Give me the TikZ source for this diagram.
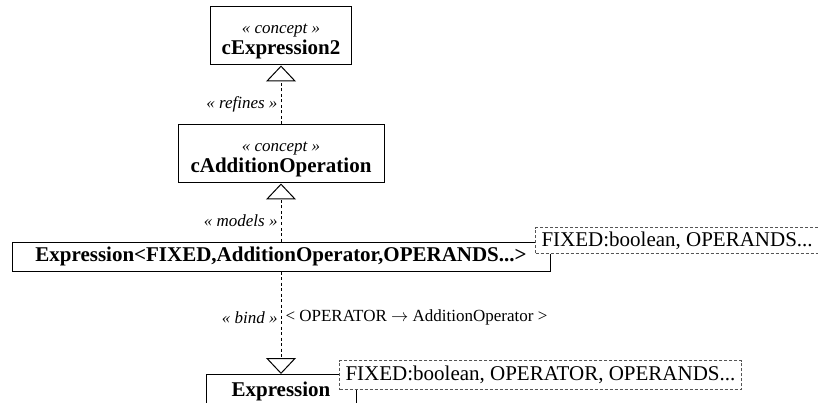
\documentclass[tikz,border=0pt]{standalone}
\usepackage{fontspec}
\setmainfont{Liberation Serif}
\usetikzlibrary{positioning, arrows.meta}
\definecolor{notegray}{RGB}{85,85,85}

\newcommand{\stereo}[1]{{\fontsize{17}{19}\selectfont\itshape\rule{0pt}{20pt}« #1 »}}
\newcommand{\clsname}[1]{{\fontsize{21}{24}\selectfont\bfseries #1}}

\begin{document}
\begin{tikzpicture}[x=1pt, y=-1pt,
    concept/.style={draw, line width=1pt, fill=white, minimum height=58pt, align=center, inner sep=2pt,
                    font=\fontsize{21}{24}\selectfont},
    cls/.style={draw, line width=1pt, fill=white, inner sep=3pt, font=\fontsize{21}{24}\selectfont\bfseries},
    note/.style={draw=notegray, dash pattern=on 3pt off 2pt, line width=1pt, fill=white,
                 inner xsep=6pt, inner ysep=2pt, font=\fontsize{21}{24}\selectfont},
    dep/.style={dash pattern=on 3pt off 2.5pt, line width=1pt, -{Triangle[open, length=16pt, width=30pt]}},
    lbl/.style={font=\fontsize{17}{19}\selectfont\itshape, inner sep=3pt}]
  \useasboundingbox (0,0) rectangle (818,403);

  \node[concept, minimum width=141pt] (cexpr) at (281,36)
        {\stereo{concept}\\[-3pt]\clsname{cExpression2}};
  \node[concept, minimum width=206pt] (cadd) at (281,154)
        {\stereo{concept}\\[-3pt]\clsname{cAdditionOperation}};
  \node[cls, minimum width=538pt, minimum height=29pt] (expr) at (281,256.5)
        {Expression<FIXED,AdditionOperator,OPERANDS...>};
  \node[note, anchor=north west, minimum height=26pt] (exprparams) at (535,227)
        {FIXED:boolean, OPERANDS...};
  \node[cls, anchor=north, minimum width=150pt, text height=19pt, text depth=30pt] (exprbase) at (281,374)
        {Expression};
  \node[note, anchor=north west, minimum height=29pt] (baseparams) at (339,360)
        {FIXED:boolean, OPERATOR, OPERANDS...};

  % dependencies
  \draw[dep] (cadd) -- node[lbl, left, pos=0.35]{« refines »} (cexpr);
  \draw[dep] (expr) -- node[lbl, left, pos=0.36]{« models »} (cadd);
  \draw[dep] (expr) -- node[lbl, left, pos=0.45]{« bind »}
        node[right, pos=0.45, inner sep=4pt, font=\fontsize{17}{19}\selectfont]{< OPERATOR $\rightarrow$ AdditionOperator >} (exprbase);
\end{tikzpicture}
\end{document}
